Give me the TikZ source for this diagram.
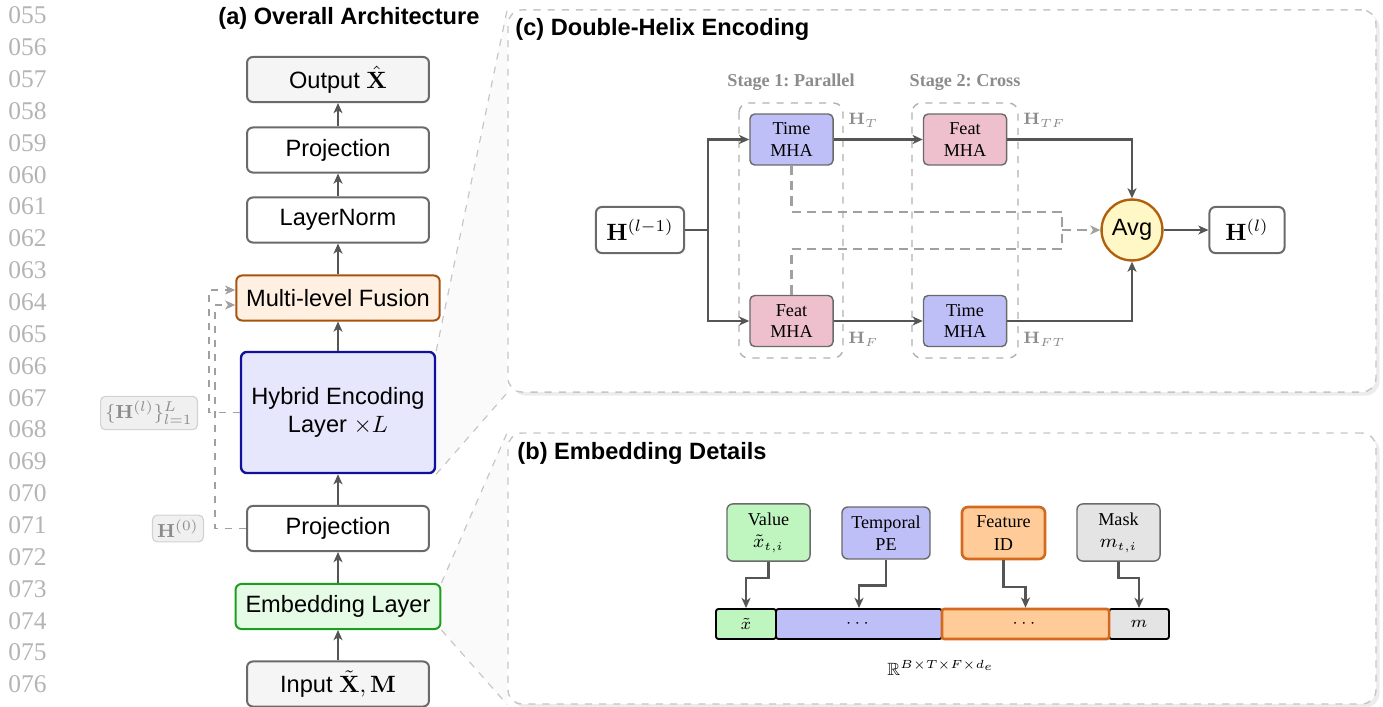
\documentclass[tikz,border=0pt]{standalone}
\usepackage{amsmath, amssymb}
\usepackage[no-math]{fontspec}
\setmainfont{Liberation Serif}
\setsansfont{Liberation Sans}
\usepackage{xcolor}
\usetikzlibrary{calc, shadows, backgrounds, arrows.meta}

% --- Bảng màu ---
\definecolor{arrgray}{HTML}{555555}
\definecolor{blkline}{HTML}{6A6A6A}
\definecolor{dashgray}{HTML}{A0A0A0}
\definecolor{lblgray}{HTML}{8C8C8C}
\definecolor{numgray}{HTML}{B4B4B4}
\definecolor{outfill}{HTML}{F5F5F5}
\definecolor{fusfill}{HTML}{FFF0E1}
\definecolor{fusline}{HTML}{A5530F}
\definecolor{hybfill}{HTML}{E6E6FC}
\definecolor{hybline}{HTML}{10109A}
\definecolor{embfill}{HTML}{E6FBE6}
\definecolor{embline}{HTML}{1E9E1E}
\definecolor{timefill}{HTML}{BFBFF8}
\definecolor{featfill}{HTML}{EEBFCD}
\definecolor{avgfill}{HTML}{FFF8C6}
\definecolor{avgline}{HTML}{B0600C}
\definecolor{valfill}{HTML}{BFF6BF}
\definecolor{fidfill}{HTML}{FFCC99}
\definecolor{fidline}{HTML}{D2691E}
\definecolor{maskfill}{HTML}{E4E4E4}

\tikzset{
    blk/.style={draw=blkline, line width=0.85pt, rounded corners=2.5pt, fill=white,
        minimum width=77.1pt, minimum height=19.1pt, inner xsep=4.2pt, font=\sffamily},
    flow/.style={->, draw=arrgray, line width=1pt},
    skipline/.style={->, draw=dashgray, line width=0.6pt, dashed},
    tag/.style={draw=gray!35, fill=gray!12, rounded corners=2pt, line width=0.5pt,
        text=lblgray, inner sep=2pt, font=\fontsize{8}{9.6}\selectfont},
    panel/.style={draw=gray!45, dashed, line width=0.6pt, rounded corners=6pt, fill=white,
        minimum width=367.8pt,
        drop shadow={shadow xshift=1.5pt, shadow yshift=-1.5pt, fill=gray!15, opacity=1}},
    funnel/.style={fill=gray!4},
    funnelline/.style={draw=gray!45, dashed, line width=0.5pt},
    ttl/.style={font=\sffamily\bfseries, inner sep=0pt},
    stagebox/.style={draw=gray!60, dashed, line width=0.6pt, rounded corners=4pt},
    stagelbl/.style={text=lblgray, inner sep=0pt,
        font=\fontsize{7.7}{9}\selectfont\bfseries\frenchspacing},
    mha/.style={draw=blkline, line width=0.6pt, rounded corners=2pt, align=center,
        minimum width=35.2pt, minimum height=21.6pt, inner sep=1pt,
        font=\fontsize{7.7}{9.2}\selectfont},
    hnode/.style={draw=blkline, line width=0.85pt, rounded corners=2.5pt, fill=white,
        minimum height=19.5pt, inner sep=2pt},
    avgnode/.style={circle, draw=avgline, line width=1pt, fill=avgfill,
        minimum size=25.8pt, inner sep=0pt, font=\sffamily},
    resid/.style={draw=dashgray, line width=1pt, dash pattern=on 4pt off 2.5pt},
    sublbl/.style={text=lblgray, inner sep=0pt, font=\fontsize{6.8}{8}\selectfont},
    src/.style={draw=blkline, line width=0.6pt, rounded corners=2.5pt, align=center,
        minimum width=35.2pt, inner sep=1pt, font=\fontsize{7.7}{9.5}\selectfont},
    seg/.style={draw=black, line width=0.8pt, rounded corners=1pt, minimum height=12.7pt,
        inner sep=0pt, font=\fontsize{7}{8}\selectfont},
    linenum/.style={text=numgray, inner sep=0pt, font=\fontsize{10.8}{12}\selectfont},
}

\begin{document}
\begin{tikzpicture}[>={Stealth[length=4.3pt, width=3.8pt, inset=1.2pt]}, x=0.4237pt, y=-0.4237pt]
    \useasboundingbox (0,0) rectangle (1383,707);

    % =================================================================
    % 0. SỐ DÒNG BÊN LỀ
    % =================================================================
    \foreach \ln [count=\k from 0] in {055,056,057,058,059,060,061,062,063,064,065,
                                      066,067,068,069,070,071,072,073,074,075,076}
        \node[linenum] (ln\ln) at (27.5, 15.5+31.85*\k) {\ln};

    % =================================================================
    % 1. (a) KIẾN TRÚC TỔNG THỂ
    % =================================================================
    \node[ttl, anchor=base west] (ttla) at (218,25) {(a) Overall Architecture};

    \node[blk, fill=outfill] (out) at (338,79.5) {Output $\hat{\mathbf{X}}$};
    \node[blk] (proj2) at (338,150) {Projection};
    \node[blk] (lnorm) at (338,220) {LayerNorm};
    \node[blk, draw=fusline, fill=fusfill] (fus) at (338,298) {Multi-level Fusion};
    \node[blk, draw=hybline, fill=hybfill, line width=1pt, align=center,
          minimum width=82.2pt, minimum height=51.3pt] (hyb) at (338,412.5)
          {Hybrid Encoding\\Layer $\times L$};
    \node[blk] (proj1) at (338,528.5) {Projection};
    \node[blk, draw=embline, fill=embfill] (emb) at (338,606.5) {Embedding Layer};
    \node[blk, fill=outfill] (inp) at (338,684) {Input $\tilde{\mathbf{X}}, \mathbf{M}$};

    \foreach \a/\b in {inp/emb, emb/proj1, proj1/hyb, hyb/fus, fus/lnorm, lnorm/proj2, proj2/out}
        \draw[flow] (\a) -- (\b);

    % Các nhánh nối tắt vào khối Fusion
    \draw[skipline] (hyb.west) -- ++(-31,0) |- ($(fus.west)+(0,-8)$);
    \draw[skipline] (proj1.west) -- ++(-31,0) |- ($(fus.west)+(0,7)$);
    \node[tag, anchor=east] (hall) at (198,413) {$\{\mathbf{H}^{(l)}\}_{l=1}^{L}$};
    \node[tag, anchor=east] (hzero) at (204,528.5) {$\mathbf{H}^{(0)}$};

    % =================================================================
    % 2. (c) MÃ HOÁ XOẮN KÉP
    % =================================================================
    \node[panel, minimum height=161.9pt] (pc) at (942,201) {};
    \node[ttl, anchor=base west] (ttlc) at (515,36) {(c) Double-Helix Encoding};

    \draw[stagebox] (739,103) rectangle (843,358);
    \draw[stagebox] (912,103) rectangle (1018,358);
    \node[stagelbl, anchor=base] (st1) at (791,87) {Stage 1: Parallel};
    \node[stagelbl, anchor=base] (st2) at (965,87) {Stage 2: Cross};

    \node[hnode, minimum width=37.3pt] (hin) at (640,230) {$\mathbf{H}^{(l-1)}$};
    \node[mha, fill=timefill] (tmha1) at (791.5,139.5) {Time\\MHA};
    \node[mha, fill=featfill] (fmha1) at (791.5,321) {Feat\\MHA};
    \node[mha, fill=featfill] (fmha2) at (965,139.5) {Feat\\MHA};
    \node[mha, fill=timefill] (tmha2) at (965,321) {Time\\MHA};
    \node[avgnode] (avg) at (1132,230) {Avg};
    \node[hnode, minimum width=31.8pt] (hout) at (1247,230) {$\mathbf{H}^{(l)}$};

    \coordinate (split) at (708,230);
    \coordinate (merge) at (1062,230);

    % Đường nối tắt (nét đứt) từ giai đoạn 1 về khối Avg
    \draw[resid] (tmha1.south) -- ++(0,46) -| (merge);
    \draw[resid] (fmha1.north) -- ++(0,-46) -| (merge);
    \draw[resid, ->] (merge) -- (avg.west);

    \draw[flow] (hin.east) -- (split) |- (tmha1.west);
    \draw[flow] (split) |- (fmha1.west);
    \draw[flow] (tmha1) -- (fmha2);
    \draw[flow] (fmha1) -- (tmha2);
    \draw[flow] (fmha2.east) -| (avg.north);
    \draw[flow] (tmha2.east) -| (avg.south);
    \draw[flow] (avg) -- (hout);

    \node[sublbl, anchor=base west] (ht) at (848,125) {$\mathbf{H}_T$};
    \node[sublbl, anchor=base west] (hf) at (848,344) {$\mathbf{H}_F$};
    \node[sublbl, anchor=base west] (htf) at (1023,125) {$\mathbf{H}_{TF}$};
    \node[sublbl, anchor=base west] (hft) at (1023,344) {$\mathbf{H}_{FT}$};

    % =================================================================
    % 3. (b) CHI TIẾT EMBEDDING
    % =================================================================
    \node[panel, minimum height=114.8pt] (pb) at (942,568.5) {};
    \node[ttl, anchor=base west] (ttlb) at (517,459) {(b) Embedding Details};

    \node[src, fill=valfill, minimum height=24.2pt] (val) at (768.5,532.5) {Value\\$\tilde{x}_{t,i}$};
    \node[src, fill=timefill, minimum width=37.3pt, minimum height=22pt] (tpe) at (886,533) {Temporal\\PE};
    \node[src, fill=fidfill, draw=fidline, line width=1.1pt, minimum height=22pt] (fid) at (1003.5,533) {Feature\\ID};
    \node[src, fill=maskfill, minimum height=24.2pt] (msk) at (1118.5,532.5) {Mask\\$m_{t,i}$};

    % Vector embedding ghép nối
    \node[seg, fill=valfill, minimum width=25.4pt] (seg1) at (746,624) {$\tilde{x}$};
    \node[seg, fill=timefill, minimum width=70.3pt] (seg2) at (859,624) {$\cdots$};
    \node[seg, fill=maskfill, minimum width=25.4pt] (seg4) at (1139,624) {$m$};
    \node[seg, fill=fidfill, draw=fidline, line width=1.1pt, minimum width=70.8pt] (seg3) at (1025.5,624) {$\cdots$};

    \draw[flow] (val.south) -- ++(0,16) -| (seg1.north);
    \draw[flow] (tpe.south) -- ++(0,26) -| (seg2.north);
    \draw[flow] (fid.south) -- ++(0,27) -| (seg3.north);
    \draw[flow] (msk.south) -- ++(0,16) -| (seg4.north);

    \node[font=\fontsize{7.5}{9}\selectfont] (dims) at (941,668) {$\mathbb{R}^{B\times T\times F\times d_e}$};

    % =================================================================
    % 4. HÌNH PHỄU PHÓNG TO (lớp nền)
    % =================================================================
    \begin{scope}[on background layer]
        \fill[funnel] (hyb.north east) -- (pc.north west) -- (pc.south west) -- (hyb.south east) -- cycle;
        \fill[funnel] (emb.north east) -- (pb.north west) -- (pb.south west) -- (emb.south east) -- cycle;
        \draw[funnelline] (hyb.north east) -- (pc.north west) (hyb.south east) -- (pc.south west);
        \draw[funnelline] (emb.north east) -- (pb.north west) (emb.south east) -- (pb.south west);
    \end{scope}

\end{tikzpicture}
\end{document}
